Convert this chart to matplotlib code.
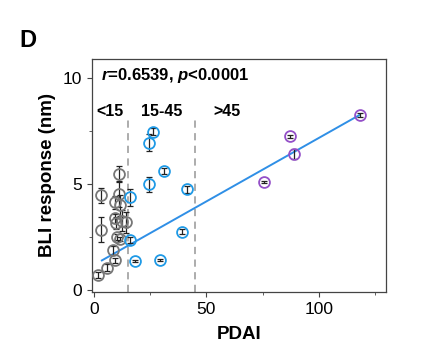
import numpy as np
import matplotlib.pyplot as plt
from matplotlib.ticker import MultipleLocator

plt.rcParams['font.family'] = ['Liberation Sans', 'DejaVu Sans']
plt.rcParams['mathtext.fontset'] = 'custom'
plt.rcParams['mathtext.it'] = 'Liberation Sans:italic:bold'

# PDAI < 15 (grey)
low_x = [1.9, 5.7, 9.1, 8.4, 3.1, 10.2, 11.6, 9.1, 9.8, 12.4, 14.3, 9.4, 11.3, 11.2, 3.1, 11.2]
low_y = [0.69, 1.05, 1.39, 1.86, 2.84, 2.49, 2.41, 3.37, 3.15, 3.26, 3.19, 4.14, 4.0, 4.51, 4.46, 5.49]
low_err = [0.15, 0.15, 0.1, 0.2, 0.6, 0.15, 0.1, 0.2, 0.3, 0.5, 0.5, 0.3, 0.5, 0.6, 0.35, 0.35]

# PDAI 15-45 (blue)
mid_x = [16.1, 16.1, 18.3, 24.3, 26.3, 24.3, 31.3, 41.5, 39.2, 29.5]
mid_y = [4.36, 2.34, 1.37, 6.95, 7.47, 4.98, 5.6, 4.74, 2.75, 1.39]
mid_err = [0.4, 0.15, 0.05, 0.4, 0.15, 0.35, 0.15, 0.15, 0.12, 0.05]

# PDAI > 45 (purple)
high_x = [75.5, 87.4, 89.2, 118.3]
high_y = [5.09, 7.24, 6.41, 8.25]
high_err = [0.05, 0.05, 0.25, 0.1]

# regression line
fit_x = [3.4, 118.1]
fit_y = [1.39, 8.25]

fig = plt.figure(figsize=(4.21, 3.55), dpi=100)
ax = fig.add_axes([0.2185, 0.1775, 0.6985, 0.6565])

ax.plot(fit_x, fit_y, color='#2f8fe6', lw=1.4, zorder=2)

groups = [(low_x, low_y, low_err, '#777777'),
          (mid_x, mid_y, mid_err, '#1f9ae6'),
          (high_x, high_y, high_err, '#9450c8')]
for xs, ys, es, c in groups:
    ax.errorbar(xs, ys, yerr=es, fmt='none', ecolor='#222222', elinewidth=0.9,
                capsize=2.5, capthick=0.9, zorder=3)
    ax.plot(xs, ys, 'o', ms=7.8, mfc='none', mec=c, mew=1.3, zorder=4)

for xv in [15, 45]:
    ax.plot([xv, xv], [-0.1, 8.1], ls=(0, (4, 3)), color='#a6a6a6', lw=1.3, zorder=1)

ax.text(3, 10.1, r'$\it{r}$' + '=0.6539, ' + r'$\it{p}$' + '<0.0001',
        fontsize=12, fontweight='bold', va='center')
ax.text(1, 8.4, '<15', fontsize=11.5, fontweight='bold', va='center')
ax.text(30, 8.4, '15-45', fontsize=11.5, fontweight='bold', va='center', ha='center')
ax.text(59, 8.4, '>45', fontsize=11.5, fontweight='bold', va='center', ha='center')

ax.set_xlim(-1, 130)
ax.set_ylim(-0.1, 10.9)
ax.set_xticks([0, 50, 100])
ax.set_yticks([0, 5, 10])
ax.xaxis.set_minor_locator(MultipleLocator(25))
ax.yaxis.set_minor_locator(MultipleLocator(2.5))
ax.tick_params(which='both', direction='out', labelsize=12.5, color='#444444')
ax.tick_params(which='major', length=3.5)
ax.tick_params(which='minor', length=2)
for s in ax.spines.values():
    s.set_color('#444444')
    s.set_linewidth(0.9)

ax.set_xlabel('PDAI', fontsize=13.5, fontweight='bold', labelpad=7)
ax.set_ylabel('BLI response (nm)', fontsize=13.5, fontweight='bold', labelpad=5)
fig.text(0.045, 0.885, 'D', fontsize=17, fontweight='bold', va='center')

fig.savefig('out.png', dpi=100)
